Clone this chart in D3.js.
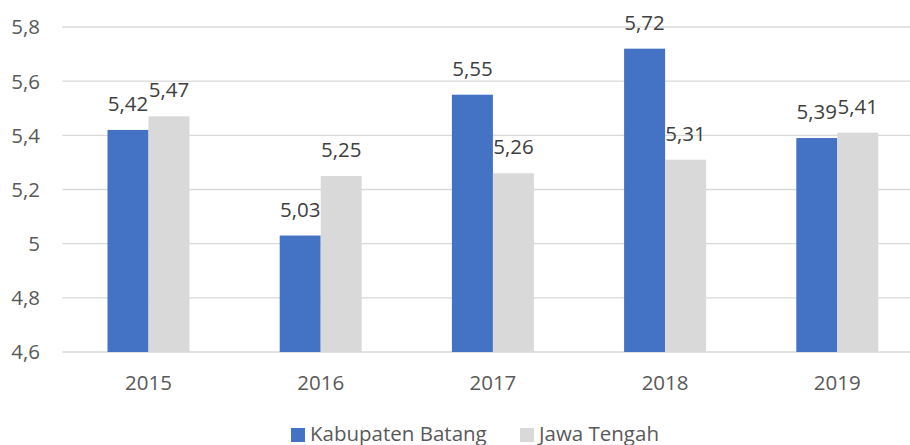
<!DOCTYPE html>
<html><head><meta charset="utf-8">
<script src="https://cdn.jsdelivr.net/npm/d3@7"></script>
<style>body{margin:0;background:#fff;overflow:hidden}svg{display:block}</style>
</head><body><svg id="c" width="910" height="445"></svg>
<script>
const years = ["2015","2016","2017","2018","2019"];
const batang = [5.42,5.03,5.55,5.72,5.39];
const jateng = [5.47,5.25,5.26,5.31,5.41];
const yTicks = [4.6,4.8,5.0,5.2,5.4,5.6,5.8];
const seriesNames = ["Kabupaten Batang","Jawa Tengah"];
const colors = ["#4472C4","#D9D9D9"];

const svg = d3.select("#c");
const font = "'Open Sans', sans-serif";
const fs = 20.5;
const pLeft = 62.4, pRight = 923.4, pTop = 27, pBottom = 352;
const x = d3.scaleBand().domain(years).range([pLeft,pRight]);
const y = d3.scaleLinear().domain([4.6,5.8]).range([pBottom,pTop]);
const fmt = v => String(+v.toFixed(2)).replace(".",",");

svg.append("g").selectAll("line").data(yTicks).join("line")
  .attr("x1",pLeft).attr("x2",pRight)
  .attr("y1",d=>y(d)).attr("y2",d=>y(d))
  .attr("stroke","#D9D9D9").attr("stroke-width",1.3);

svg.append("g").selectAll("text").data(yTicks).join("text")
  .attr("x",40).attr("y",d=>y(d)).attr("dy","0.36em")
  .attr("text-anchor","end").attr("font-family",font).attr("font-size",fs)
  .attr("fill","#595959").text(d=>fmt(d));

const bw = 41;
const series = [batang, jateng];
series.forEach((vals,si)=>{
  const g = svg.append("g");
  g.selectAll("rect").data(vals).join("rect")
    .attr("x",(d,i)=>x(years[i])+x.bandwidth()/2 - bw + si*bw)
    .attr("width",bw)
    .attr("y",d=>y(d)).attr("height",d=>pBottom-y(d))
    .attr("fill",colors[si]);
  g.selectAll("text").data(vals).join("text")
    .attr("x",(d,i)=>x(years[i])+x.bandwidth()/2 - bw/2 + si*bw)
    .attr("y",d=>y(d)-19)
    .attr("text-anchor","middle").attr("font-family",font).attr("font-size",fs)
    .attr("fill","#404040").text(d=>fmt(d));
});

svg.append("g").selectAll("text").data(years).join("text")
  .attr("x",d=>x(d)+x.bandwidth()/2).attr("y",390)
  .attr("text-anchor","middle").attr("font-family",font).attr("font-size",fs)
  .attr("fill","#595959").text(d=>d);

const legX = [291,520];
seriesNames.forEach((n,i)=>{
  svg.append("rect").attr("x",legX[i]).attr("y",428).attr("width",14).attr("height",14).attr("fill",colors[i]);
  svg.append("text").attr("x",legX[i]+19).attr("y",440.5)
    .attr("font-family",font).attr("font-size",fs).attr("fill","#595959").text(n);
});
</script></body></html>
